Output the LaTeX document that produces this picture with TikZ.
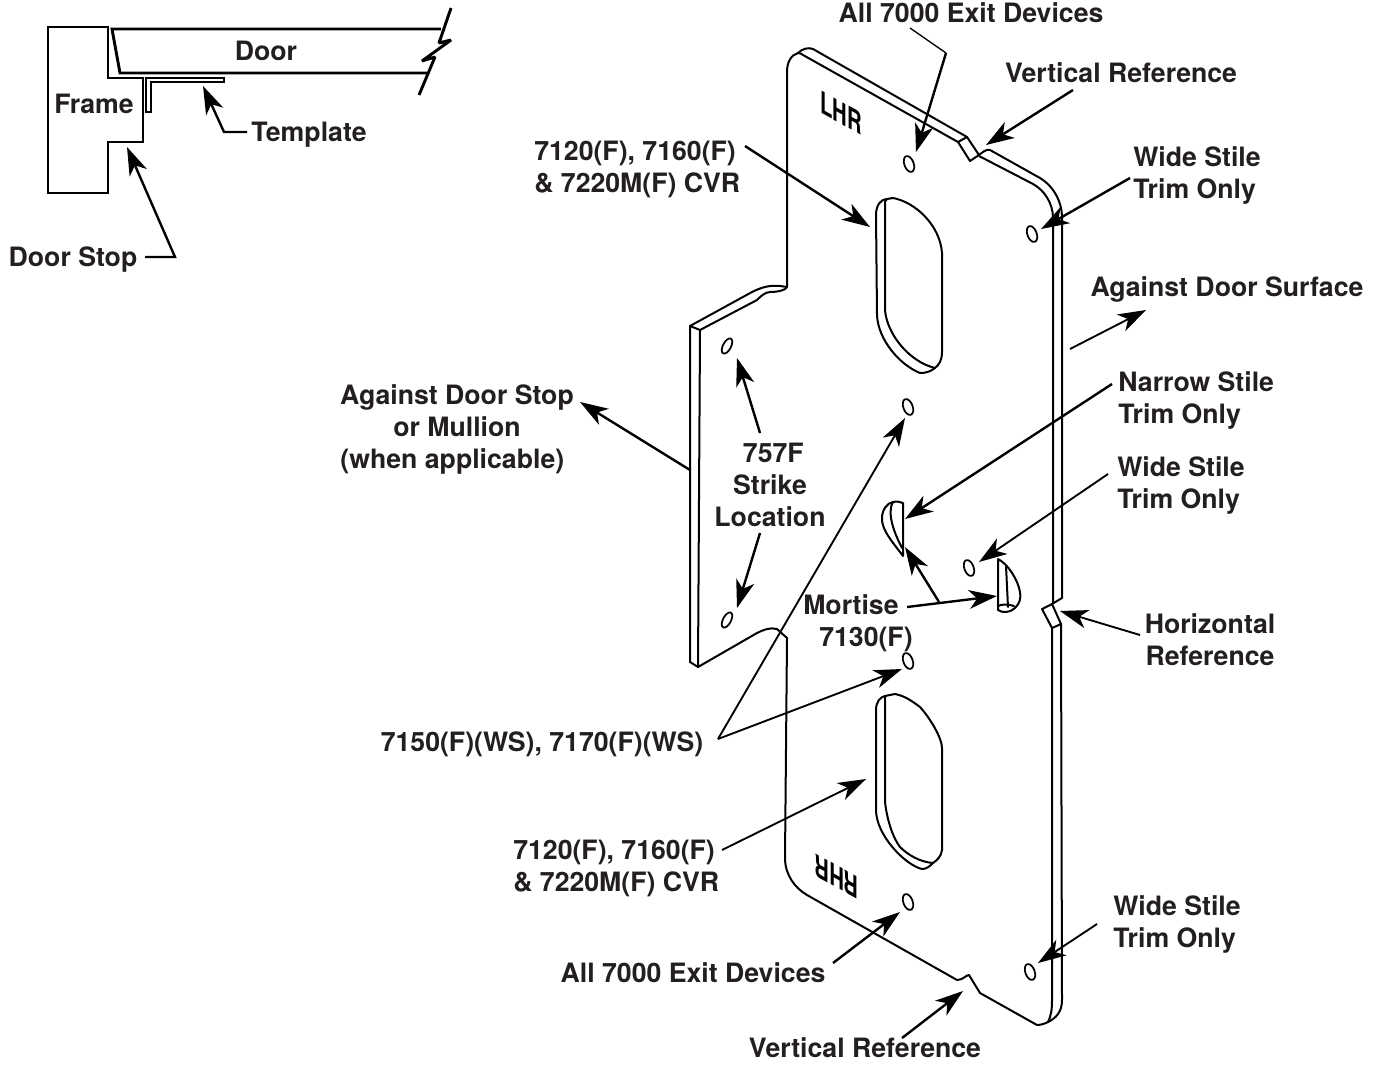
\documentclass[tikz,border=0pt]{standalone}
\usepackage{fontspec}
\setmainfont{TeX Gyre Heros}
\usetikzlibrary{arrows.meta,shapes.geometric}
\definecolor{ink}{HTML}{231F20}
\tikzset{
  lbl/.style={font=\fontsize{20}{24}\selectfont\bfseries,text=ink,inner sep=0pt,align=center},
  lbll/.style={lbl,align=left},
  arr/.style={draw=black,line width=1.8pt,-{Stealth[length=21pt,width=14pt,inset=6pt]}},
  thinl/.style={draw=black,line width=1.7pt},
  sect/.style={draw=black,line width=2.2pt,line join=miter},
  plate/.style={draw=black,line width=1.5pt,line join=round,line cap=round},
  hole/.style={draw=black,ellipse,line width=1.3pt,inner sep=0pt,minimum width=7pt,minimum height=12.5pt,rotate=20},
  hand/.style={font=\fontsize{23}{23}\selectfont\bfseries,text=black,inner sep=0pt,yslant=-0.55,xscale=.66,transform shape}
}
\begin{document}
\begin{tikzpicture}[x=.75pt,y=-.75pt]
\useasboundingbox (0,0) rectangle (1380,1064);

% ---- section sketch
\draw[sect] (48,27) -- (108,27) -- (108,78) -- (143,78) -- (143,142) -- (108,142) -- (108,193) -- (48,193) -- cycle;
\draw[sect,miter limit=2] (441,29) -- (112,29) -- (120,73) -- (427,73);
\draw[sect,line join=bevel] (451,8) -- (439,43) -- (451,40) -- (422,61) -- (435,57) -- (419,95);
\draw[draw=black,line width=1.6pt] (146,112) -- (146,78) -- (224,78) -- (224,82) -- (151,82) -- (151,112) -- cycle;

\node[lbl] (door) at (266,51) {Door};
\node[lbl] (frame) at (94,104) {Frame};
\node[lbl] (templ) at (309,135) {Template};
\node[lbl] (dstop) at (73,260) {Door Stop};
\coordinate (templA) at (203,86);
\coordinate (templB) at (224,132);
\coordinate (dstopA) at (127,147);
\coordinate (dstopB) at (175,257);
\draw[arr] (247,132) -- (templB) -- (templA);
\draw[arr] (145,257) -- (dstopB) -- (dstopA);

% ---- plate outline
\draw[plate]
  (787,287) -- (787,72) .. controls (787,62) and (791,55) .. (798,53)
  .. controls (802,49) and (808,47) .. (813,49) -- (967,137) -- (979,155)
  (958,142) -- (970,161) -- (979,155) .. controls (983,152) and (986,149) .. (990,150)
  -- (1040,178) .. controls (1052,185) and (1062,200) .. (1062,218)
  -- (1062,598) -- (1052,604) -- (1042,609) -- (1052,628) -- (1061,624)
  -- (1062,1000) .. controls (1062,1012) and (1056,1018) .. (1048,1022)
  .. controls (1044,1024) and (1040,1025) .. (1037,1025)
  -- (980,993) -- (969,975) .. controls (966,975) and (963,980) .. (957,980)
  -- (807,895) .. controls (795,888) and (785,875) .. (785,858) -- (787,638) -- (777,629)
  .. controls (770,627) and (763,630) .. (757,633) -- (698,667) -- (690,662) -- (690,326)
  -- (752,292) .. controls (762,287) and (770,285) .. (780,286) -- (787,287);
\draw[plate] (787,287) .. controls (786,290) and (778,292) .. (770,292)
  .. controls (765,292) and (760,297) .. (757,300) -- (700,330) -- (690,326);
\draw[plate] (700,330) -- (698,667);
\draw[plate] (798,53) .. controls (800,53) and (802,54) .. (803,55) -- (958,142) -- (967,137);
\draw[plate] (979,156) -- (1033,184) .. controls (1044,190) and (1053,203) .. (1053,218)
  -- (1053,603);
\draw[plate] (1052,604) -- (1061,624);
\draw[plate] (1052,628) -- (1052,1000) .. controls (1052,1010) and (1051,1016) .. (1048,1022);

% ---- slots
\draw[plate] (893,198) .. controls (915,202) and (940,225) .. (942,253) -- (942,352)
  .. controls (942,360) and (939,365) .. (935,368) .. controls (930,372) and (925,373) .. (920,373)
  .. controls (900,365) and (878,340) .. (877,315) -- (876,215)
  .. controls (876,205) and (881,199) .. (887,199) -- cycle;
\draw[plate] (887,199) .. controls (885,200) and (885,202) .. (885,205) -- (885,310)
  .. controls (887,335) and (910,362) .. (935,368);
\draw[plate] (895,694) .. controls (905,696) and (912,701) .. (920,707)
  .. controls (930,718) and (942,738) .. (942,748) -- (942,850)
  .. controls (941,857) and (937,860) .. (933,863) .. controls (929,867) and (926,869) .. (922,869)
  .. controls (905,865) and (876,835) .. (876,810) -- (876,710)
  .. controls (876,702) and (880,697) .. (885,696) -- cycle;
\draw[plate] (885,696) .. controls (885,698) and (885,699) .. (885,702) -- (885,802)
  .. controls (887,820) and (893,838) .. (900,847) .. controls (908,855) and (920,862) .. (933,863);

% ---- half-moon mortise cut-outs
\draw[plate] (903,503) -- (903,556) .. controls (895,545) and (881,530) .. (882,518)
  .. controls (882,510) and (887,503) .. (893,502) .. controls (897,501) and (900,502) .. (903,503);
\draw[plate] (893,502) .. controls (891,505) and (890,510) .. (891,518) .. controls (893,530) and (898,540) .. (902,548);
\draw[plate] (998,559) -- (998,610) .. controls (1002,613) and (1010,613) .. (1015,608)
  .. controls (1020,603) and (1021,598) .. (1020,592) .. controls (1018,580) and (1008,564) .. (998,559);
\draw[plate] (1006,566) -- (1008,607);
\draw[plate] (998,606) .. controls (1002,604) and (1008,604) .. (1014,606);

% ---- small holes
\node[hole] (h1) at (909,164) {};
\node[hole] (h2) at (1032,234) {};
\node[hole,rotate=-48,minimum width=6pt] (h3) at (727,346) {};
\node[hole] (h4) at (908,407) {};
\node[hole,rotate=-48,minimum width=6pt] (h5) at (727,620) {};
\node[hole] (h6) at (969,568) {};
\node[hole] (h7) at (908,661) {};
\node[hole] (h8) at (908,902) {};
\node[hole] (h9) at (1030,972) {};

% ---- engraved marks
\node[hand] (lhr) at (841,113) {LHR};
\node[hand,rotate=180] (rhr) at (837,877) {RHR};

% ---- labels
\node[lbl] (a1) at (971,13) {All 7000 Exit Devices};
\node[lbl] (v1) at (1121,73) {Vertical Reference};
\node[lbll,anchor=west] (c1) at (534,169) {7120(F), 7160(F)\\\& 7220M(F) CVR};
\node[lbll,anchor=west] (w1) at (1133,175) {Wide Stile\\Trim Only};
\node[lbl] (ds) at (1227,289) {Against Door Surface};
\node[lbll,anchor=west] (ns) at (1118,400) {Narrow Stile\\Trim Only};
\node[lbll,anchor=west] (w2) at (1117,485) {Wide Stile\\Trim Only};
\node[lbl] (hr) at (1210,640) {Horizontal\\Reference};
\node[lbl] (as) at (457,429) {Against Door Stop\\or Mullion\\(when applicable)\hspace*{7pt}};
\node[lbl] (st) at (770,485) {\hspace*{5pt}757F\\Strike\\Location};
\node[lbll,anchor=west] (mo) at (803,623) {Mortise\\\hspace*{12pt}7130(F)};
\node[lbl] (w15) at (542,744) {7150(F)(WS), 7170(F)(WS)};
\node[lbll,anchor=west] (c2) at (513,868) {7120(F), 7160(F)\\\& 7220M(F) CVR};
\node[lbl] (a2) at (693,973) {All 7000 Exit Devices};
\node[lbl] (v2) at (865,1048) {Vertical Reference};
\node[lbll,anchor=west] (w3) at (1113,924) {Wide Stile\\Trim Only};

% ---- connector ends
\coordinate (a1s) at (910,28);
\coordinate (a1b) at (946,53);
\coordinate (a1t) at (916,152);
\coordinate (v1s) at (1073,90);
\coordinate (v1t) at (986,145);
\coordinate (w1s) at (1130,178);
\coordinate (w1t) at (1041,229);
\coordinate (c1s) at (745,146);
\coordinate (c1t) at (870,227);
\coordinate (dss) at (1070,349);
\coordinate (dst) at (1146,310);
\coordinate (nss) at (1112,384);
\coordinate (nst) at (905,519);
\coordinate (w2s) at (1108,474);
\coordinate (w2t) at (979,562);
\coordinate (hrs) at (1140,635);
\coordinate (hrt) at (1060,611);
\coordinate (ass) at (690,470);
\coordinate (ast) at (580,402);
\coordinate (sts) at (760,433);
\coordinate (stt) at (737,358);
\coordinate (sus) at (760,533);
\coordinate (sut) at (737,608);
\coordinate (mos) at (907,607);
\coordinate (mob) at (939,602);
\coordinate (mot) at (997,596);
\coordinate (mou) at (905,547);
\coordinate (wsj) at (718,739);
\coordinate (wsa) at (905,418);
\coordinate (wsb) at (902,669);
\coordinate (c2s) at (722,850);
\coordinate (c2t) at (866,779);
\coordinate (a2s) at (833,963);
\coordinate (a2t) at (900,912);
\coordinate (v2s) at (902,1038);
\coordinate (v2t) at (963,991);
\coordinate (w3s) at (1097,924);
\coordinate (w3t) at (1038,963);

% ---- connectors
\draw[thinl,line width=1pt] (a1s) -- (a1b);
\draw[arr] (a1b) -- (a1t);
\draw[arr] (v1s) -- (v1t);
\draw[arr] (w1s) -- (w1t);
\draw[arr] (c1s) -- (c1t);
\draw[arr,line width=1.4pt] (dss) -- (dst);
\draw[arr] (nss) -- (nst);
\draw[arr,line width=1.4pt] (w2s) -- (w2t);
\draw[arr,line width=1.4pt] (hrs) -- (hrt);
\draw[arr] (ass) -- (ast);
\draw[arr] (sts) -- (stt);
\draw[arr] (sus) -- (sut);
\draw[arr] (mos) -- (mot);
\draw[arr] (mob) -- (mou);
\draw[arr,line width=1.4pt] (wsj) -- (wsa);
\draw[arr,line width=1.4pt] (wsj) -- (wsb);
\draw[arr,line width=1.4pt] (c2s) -- (c2t);
\draw[arr] (a2s) -- (a2t);
\draw[arr] (v2s) -- (v2t);
\draw[arr,line width=1.4pt] (w3s) -- (w3t);
\end{tikzpicture}
\end{document}
